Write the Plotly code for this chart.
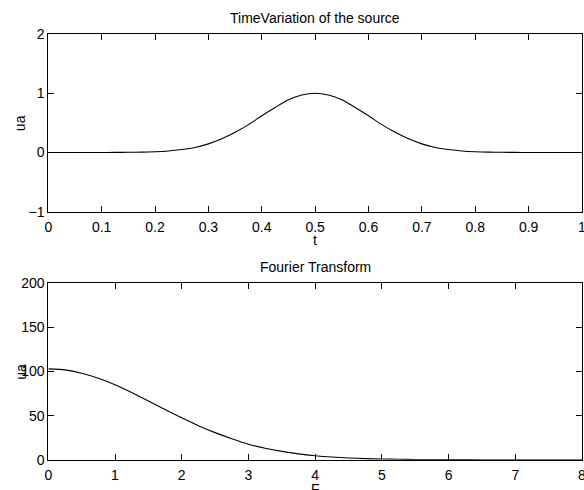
import plotly.graph_objects as go

# --- data ---
t_vals = [0.0, 0.025, 0.05, 0.075, 0.1, 0.125, 0.15, 0.175, 0.2, 0.225, 0.25, 0.275,
          0.3, 0.325, 0.35, 0.375, 0.4, 0.425, 0.45, 0.475, 0.5, 0.525, 0.55, 0.575,
          0.6, 0.625, 0.65, 0.675, 0.7, 0.725, 0.75, 0.775, 0.8, 0.825, 0.85, 0.875,
          0.9, 0.925, 0.95, 0.975, 1.0]
source_vals = [0.0, 0.0, 0.0, 0.0, 0.0005, 0.001, 0.003, 0.006, 0.013, 0.026, 0.05, 0.085,
               0.145, 0.23, 0.34, 0.47, 0.62, 0.76, 0.89, 0.97, 1.0, 0.97, 0.89, 0.76,
               0.62, 0.47, 0.34, 0.23, 0.145, 0.085, 0.05, 0.026, 0.013, 0.006, 0.003, 0.001,
               0.0005, 0.0, 0.0, 0.0, 0.0]

f_vals = [0.0, 0.25, 0.5, 0.75, 1.0, 1.25, 1.5, 1.75, 2.0, 2.25, 2.5, 2.75, 3.0, 3.25,
          3.5, 3.75, 4.0, 4.25, 4.5, 4.75, 5.0, 5.25, 5.5, 5.75, 6.0, 6.5, 7.0, 7.5, 8.0]
fourier_vals = [103.0, 101.8, 98.1, 92.4, 85.0, 76.1, 66.6, 56.9, 47.5, 38.6, 30.7, 23.8,
                17.6, 13.0, 9.4, 6.6, 4.5, 3.0, 2.0, 1.2, 0.8, 0.5, 0.3, 0.15, 0.1, 0.0, 0.0, 0.0, 0.0]

top_xticks = [0, 0.1, 0.2, 0.3, 0.4, 0.5, 0.6, 0.7, 0.8, 0.9, 1]
top_xlabels = ["0", "0.1", "0.2", "0.3", "0.4", "0.5", "0.6", "0.7", "0.8", "0.9", "1"]
top_yticks = [-1, 0, 1, 2]
top_ylabels = ["\u22121", "0", "1", "2"]
bot_xticks = [0, 1, 2, 3, 4, 5, 6, 7, 8]
bot_yticks = [0, 50, 100, 150, 200]

FONT = "Liberation Sans, Arial, Helvetica, sans-serif"
W, H = 584, 490

fig = go.Figure()
fig.add_trace(go.Scatter(x=t_vals, y=source_vals, mode="lines",
                         line=dict(color="black", width=1.1, shape="spline", smoothing=0.6),
                         xaxis="x", yaxis="y", showlegend=False, hoverinfo="skip", cliponaxis=False))
fig.add_trace(go.Scatter(x=f_vals, y=fourier_vals, mode="lines",
                         line=dict(color="black", width=1.1, shape="spline", smoothing=0.6),
                         xaxis="x2", yaxis="y2", showlegend=False, hoverinfo="skip", cliponaxis=False))

L, R = 48.3, 582.0
xd = [L / W, R / W]
yd_top = [1 - 211.7 / H, 1 - 34 / H]
yd_bot = [1 - 459.7 / H, 1 - 283.3 / H]

axis_common = dict(showgrid=False, zeroline=False, showline=True, linecolor="black", linewidth=1,
                   mirror="ticks", ticks="inside", ticklen=6, tickcolor="black", tickwidth=1,
                   automargin=False, ticklabeloverflow="allow",
                   tickfont=dict(family=FONT, size=14, color="black"))

fig.update_layout(
    template="none",
    width=W, height=H, margin=dict(l=0, r=0, t=0, b=0, pad=0),
    paper_bgcolor="white", plot_bgcolor="white",
    xaxis=dict(domain=xd, anchor="y", range=[0, 1], tickmode="array", tickvals=top_xticks,
               ticktext=top_xlabels, ticklabelstandoff=2, **axis_common),
    yaxis=dict(domain=yd_top, anchor="x", range=[-1, 2], tickmode="array", tickvals=top_yticks,
               ticktext=top_ylabels, **axis_common),
    xaxis2=dict(domain=xd, anchor="y2", range=[0, 8], tickmode="array", tickvals=bot_xticks,
                ticklabelstandoff=2, **axis_common),
    yaxis2=dict(domain=yd_bot, anchor="x2", range=[0, 200], tickmode="array", tickvals=bot_yticks,
                **axis_common),
)

ann_font = dict(family=FONT, size=14, color="black")
xc = (xd[0] + xd[1]) / 2
fig.add_annotation(text="TimeVariation of the source", x=xc, y=1 - 17.7 / H, xref="paper", yref="paper",
                   showarrow=False, font=ann_font, xanchor="center", yanchor="middle")
fig.add_annotation(text="Fourier Transform", x=xc, y=1 - 266.7 / H, xref="paper", yref="paper",
                   showarrow=False, font=ann_font, xanchor="center", yanchor="middle")
fig.add_annotation(text="t", x=xc, y=1 - 240 / H, xref="paper", yref="paper",
                   showarrow=False, font=ann_font, xanchor="center", yanchor="middle")
fig.add_annotation(text="F", x=xc, y=1 - 488.5 / H, xref="paper", yref="paper",
                   showarrow=False, font=ann_font, xanchor="center", yanchor="middle")
fig.add_annotation(text="ua", x=20.3 / W, y=(yd_top[0] + yd_top[1]) / 2, xref="paper", yref="paper",
                   showarrow=False, font=ann_font, textangle=-90, xanchor="center", yanchor="middle")
fig.add_annotation(text="ua", x=20.3 / W, y=(yd_bot[0] + yd_bot[1]) / 2, xref="paper", yref="paper",
                   showarrow=False, font=ann_font, textangle=-90, xanchor="center", yanchor="middle")

fig.write_html("out.html", config={"displayModeBar": False, "staticPlot": True},
               post_script="document.body.style.margin='0px';document.body.style.overflow='hidden';")
